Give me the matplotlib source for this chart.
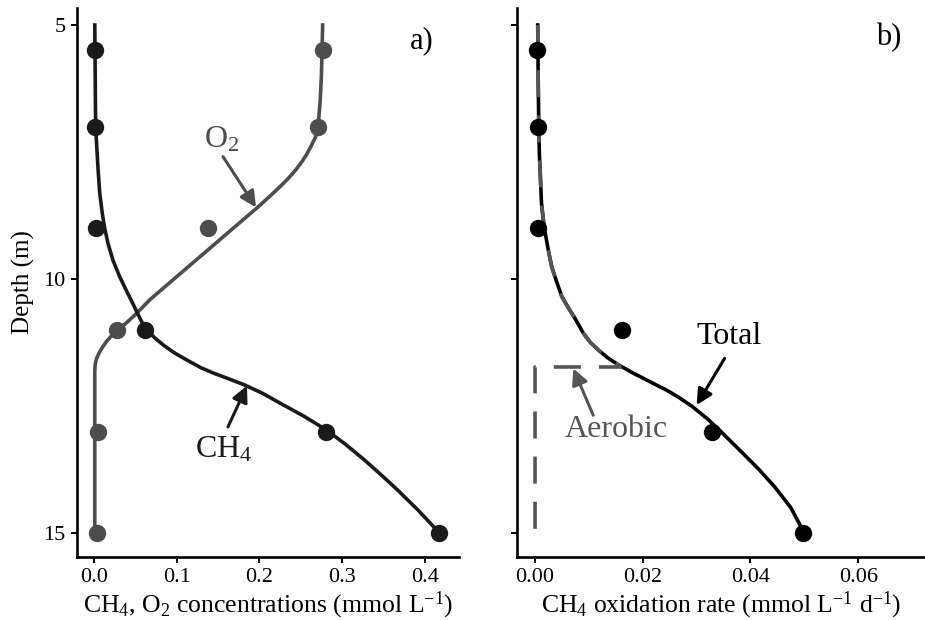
import matplotlib
matplotlib.use("Agg")
import matplotlib.pyplot as plt

plt.rcParams['font.family'] = ['Liberation Serif', 'DejaVu Serif']
plt.rcParams['mathtext.fontset'] = 'custom'
plt.rcParams['mathtext.rm'] = 'Liberation Serif'
plt.rcParams['mathtext.it'] = 'Liberation Serif:italic'

# measured profiles
depth_obs = [5.5, 7, 9, 11, 13, 15]
ch4_obs = [0.001, 0.001, 0.003, 0.062, 0.281, 0.417]
o2_obs = [0.277, 0.271, 0.138, 0.028, 0.005, 0.004]
rate_obs = [0.0003, 0.0005, 0.0005, 0.0161, 0.0328, 0.0498]

# model curves
ch4_fit_depth = [5.0, 7.0, 7.85, 8.31, 8.7, 9.0, 9.3, 9.63, 9.95, 10.22, 10.45, 10.65,
                 10.85, 11.0, 11.15, 11.3, 11.45, 11.6, 11.75, 11.86, 11.97, 12.09,
                 12.25, 12.45, 12.7, 12.97, 13.25, 13.56, 13.85, 14.15, 14.55, 15.0]
ch4_fit = [0.001, 0.002, 0.005, 0.007, 0.010, 0.013, 0.017, 0.023, 0.031, 0.039, 0.046,
           0.052, 0.058, 0.0645, 0.073, 0.084, 0.097, 0.113, 0.130, 0.146, 0.164, 0.183,
           0.204, 0.226, 0.254, 0.281, 0.304, 0.327, 0.347, 0.367, 0.392, 0.418]

o2_fit_depth = [5.0, 6.0, 6.5, 7.0, 7.2, 7.4, 7.55, 7.7, 7.85, 8.0, 8.15, 8.35, 8.6,
                9.2, 9.8, 10.4, 10.7, 10.85, 11.0, 11.12, 11.23, 11.35, 11.46, 11.57,
                11.68, 11.8, 15.0]
o2_fit = [0.2765, 0.275, 0.2735, 0.271, 0.268, 0.262, 0.257, 0.251, 0.244, 0.236, 0.227,
          0.214, 0.197, 0.154, 0.111, 0.068, 0.050, 0.040, 0.029, 0.021, 0.015, 0.010,
          0.006, 0.003, 0.0015, 0.001, 0.001]

total_depth = [5.0, 6.2, 7.0, 7.53, 8.0, 8.51, 8.8, 9.1, 9.45, 9.76, 10.05, 10.35,
               10.55, 10.77, 11.07, 11.25, 11.4, 11.55, 11.69, 11.85, 11.99, 12.1,
               12.19, 12.35, 12.51, 12.75, 13.0, 13.2, 13.43, 13.75, 14.09, 14.5, 15.0]
total_rate = [0.0005, 0.0006, 0.0007, 0.0008, 0.0010, 0.0012, 0.0015, 0.0019, 0.0025,
              0.0031, 0.0040, 0.0050, 0.0061, 0.0074, 0.0090, 0.0103, 0.0118, 0.0135,
              0.0155, 0.0182, 0.0208, 0.0228, 0.0245, 0.0270, 0.0292, 0.0320, 0.0345,
              0.0364, 0.0386, 0.0416, 0.0445, 0.0475, 0.0500]

aerobic_depth = [5.0, 6.2, 7.0, 7.53, 8.0, 8.51, 8.8, 9.1, 9.45, 9.76, 10.05, 10.35,
                 10.55, 10.77, 11.07, 11.25, 11.4, 11.55, 11.69, 11.73, 11.73, 15.0]
aerobic_rate = [0.0005, 0.0006, 0.0007, 0.0008, 0.0010, 0.0012, 0.0015, 0.0019, 0.0025,
                0.0031, 0.0040, 0.0050, 0.0061, 0.0074, 0.0090, 0.0103, 0.0118, 0.0135,
                0.0155, 0.0158, 0.0, 0.0]

ch4_col = '#1a1a1a'
o2_col = '#4d4d4d'
aer_col = '#555555'

fig = plt.figure(figsize=(9.25, 6.2), dpi=100)
ax1 = fig.add_axes([0.0828, 0.1016, 0.4131, 0.8855])
ax2 = fig.add_axes([0.5592, 0.1016, 0.4408, 0.8855])

for ax in (ax1, ax2):
    ax.spines['top'].set_visible(False)
    ax.spines['right'].set_visible(False)
    for s in ('left', 'bottom'):
        ax.spines[s].set_linewidth(1.9)
    ax.tick_params(direction='out', length=4, width=1.4, labelsize=16, pad=4)
    ax.set_ylim(15.47, 4.665)
    ax.set_yticks([5, 10, 15])

# panel a
ax1.plot(o2_fit, o2_fit_depth, color=o2_col, lw=2.6, solid_joinstyle='round')
ax1.plot(ch4_fit, ch4_fit_depth, color=ch4_col, lw=2.6, solid_joinstyle='round')
ax1.plot(o2_obs, depth_obs, 'o', color=o2_col, ms=12.5, mec='none')
ax1.plot(ch4_obs, depth_obs, 'o', color=ch4_col, ms=12.5, mec='none')
ax1.set_xlim(-0.021, 0.441)
ax1.set_xticks([0.0, 0.1, 0.2, 0.3, 0.4])
ax1.set_xticklabels(['0.0', '0.1', '0.2', '0.3', '0.4'])
ax1.set_xlabel(r'CH$_4$, O$_2$ concentrations (mmol L$^{-1}$)', fontsize=18.5, labelpad=1.5)
ax1.set_ylabel('Depth (m)', fontsize=18, labelpad=6)

arrow_o2 = dict(arrowstyle='-|>', color=o2_col, lw=2.2, mutation_scale=24, shrinkA=0, shrinkB=0)
arrow_ch4 = dict(arrowstyle='-|>', color=ch4_col, lw=2.2, mutation_scale=24, shrinkA=0, shrinkB=0)
ax1.annotate('', xy=(0.196, 8.59), xytext=(0.156, 7.59), arrowprops=arrow_o2)
ax1.text(0.155, 7.26, r'O$_2$', color=o2_col, fontsize=23, ha='center', va='center')
ax1.annotate('', xy=(0.185, 12.1), xytext=(0.162, 12.91), arrowprops=arrow_ch4)
ax1.text(0.157, 13.35, r'CH$_4$', color=ch4_col, fontsize=23, ha='center', va='center')
ax1.text(0.396, 5.31, 'a)', fontsize=22, ha='center', va='center')

# panel b
ax2.plot(total_rate, total_depth, color='black', lw=2.6, solid_joinstyle='round')
ax2.plot(aerobic_rate, aerobic_depth, color=aer_col, lw=2.6, dashes=(7.5, 5))
ax2.plot(rate_obs, depth_obs, 'o', color='black', ms=12.5, mec='none')
ax2.set_xlim(-0.0033, 0.0724)
ax2.set_xticks([0.0, 0.02, 0.04, 0.06])
ax2.set_xticklabels(['0.00', '0.02', '0.04', '0.06'])
ax2.set_yticklabels([])
ax2.set_xlabel(r'CH$_4$ oxidation rate (mmol L$^{-1}$ d$^{-1}$)', fontsize=18.5, labelpad=1.5)

arrow_tot = dict(arrowstyle='-|>', color='black', lw=2.2, mutation_scale=24, shrinkA=0, shrinkB=0)
arrow_aer = dict(arrowstyle='-|>', color=aer_col, lw=2.2, mutation_scale=24, shrinkA=0, shrinkB=0)
ax2.annotate('', xy=(0.030, 12.48), xytext=(0.0352, 11.56), arrowprops=arrow_tot)
ax2.text(0.036, 11.13, 'Total', fontsize=23, ha='center', va='center')
ax2.annotate('', xy=(0.0071, 11.76), xytext=(0.0108, 12.68), arrowprops=arrow_aer)
ax2.text(0.015, 12.97, 'Aerobic', color=aer_col, fontsize=23, ha='center', va='center')
ax2.text(0.0656, 5.24, 'b)', fontsize=22, ha='center', va='center')

fig.savefig('out.png', dpi=100, facecolor='white')
